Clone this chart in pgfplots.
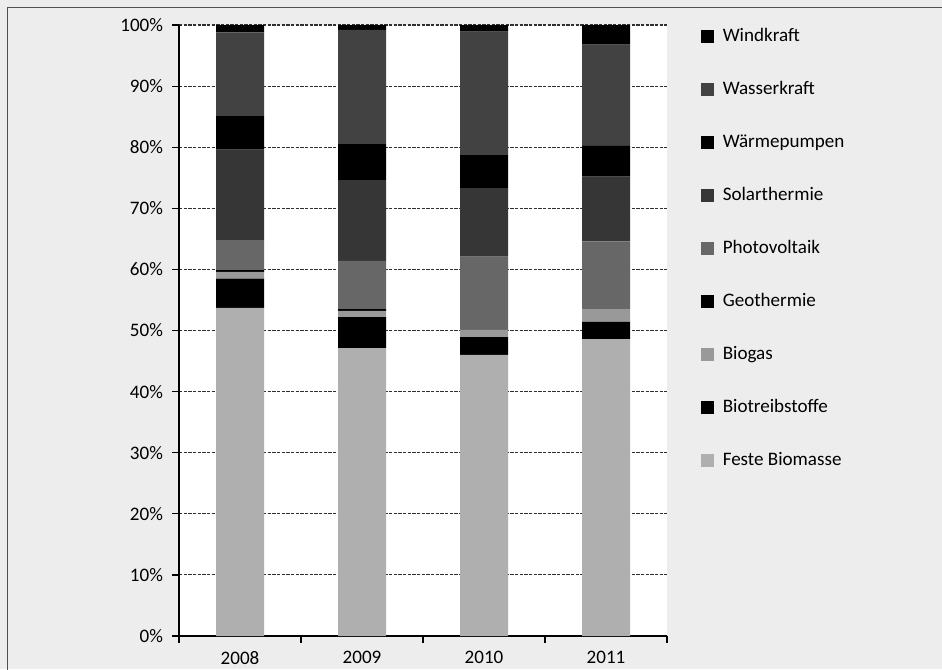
\documentclass[border=0pt]{standalone}
\usepackage{pgfplots}
\pgfplotsset{compat=1.18}
\usepackage{fontspec}
\setmainfont{Carlito}

\definecolor{bg}{HTML}{EDEDED}
\definecolor{framec}{HTML}{505050}
\definecolor{gridc}{HTML}{303030}
\definecolor{cWind}{HTML}{000000}
\definecolor{cWasser}{HTML}{424242}
\definecolor{cWaerme}{HTML}{000000}
\definecolor{cSolar}{HTML}{363636}
\definecolor{cPV}{HTML}{676767}
\definecolor{cGeo}{HTML}{000000}
\definecolor{cBiogas}{HTML}{999999}
\definecolor{cBiotreib}{HTML}{000000}
\definecolor{cFeste}{HTML}{AFAFAF}

% shares in percent, columns 2008..2011
\pgfplotstableread{
x    feste biotreib biogas geo  pv   solar waerme wasser wind
0.5  53.7  4.8      1.1    0.3  4.9  14.8  5.6    13.6   1.2
1.5  47.1  5.1      1.0    0.3  7.9  13.2  5.9    18.7   0.8
2.5  46.0  2.9      1.2    0.0  12.0 11.2  5.4    20.2   1.1
3.5  48.6  2.8      2.1    0.0  11.1 10.6  5.0    16.6   3.2
}\shares

\begin{document}
\begin{tikzpicture}
\fill[bg] (0,0) rectangle (706.5pt,501.75pt);
\useasboundingbox (0,0) rectangle (706.5pt,501.75pt);
\draw[framec, line width=1.1pt] (5.6pt,-2pt) -- (5.6pt,496.1pt) -- (710pt,496.1pt);
\begin{axis}[
  at={(134.25pt,24.75pt)}, anchor=south west,
  scale only axis, width=366pt, height=458.25pt,
  xmin=0, xmax=4, ymin=0, ymax=100,
  ybar stacked, bar width=36pt,
  axis background/.style={fill=white},
  axis x line*=bottom, axis y line*=left,
  axis line style={black, line width=0.9pt},
  xtick={0,1,2,3,4}, xticklabels={},
  extra x ticks={0.5,1.5,2.5,3.5},
  extra x tick labels={2008,2009,2010,2011},
  extra x tick style={major tick length=0pt, grid=none,
    xticklabel style={yshift=-8pt}},
  ytick={0,10,...,100},
  yticklabels={0\%,10\%,20\%,30\%,40\%,50\%,60\%,70\%,80\%,90\%,100\%},
  tick align=outside, major tick length=5pt,
  tick style={black, line width=0.9pt},
  ymajorgrids,
  grid style={gridc, line width=0.8pt, dash pattern=on 2.4pt off 1.1pt},
  ticklabel style={font=\fontsize{14.3}{17}\selectfont},
  yticklabel style={xshift=-3.5pt},
  legend image code/.code={\fill[#1] (0pt,-4.75pt) rectangle (9.5pt,4.75pt);},
  reverse legend,
  legend cell align=left,
  legend style={at={(1.07,1.0)}, anchor=north west, yshift=-2pt,
    draw=none, fill=none,
    font=\fontsize{14.3}{17}\selectfont, row sep=26.75pt, inner sep=0pt,
    nodes={inner sep=0pt, text height=10pt, text depth=3pt},
    /tikz/every odd column/.append style={column sep=6.5pt}},
]
\addplot[fill=cFeste, draw=none] table[x=x, y=feste] {\shares};
\addplot[fill=cBiotreib, draw=none] table[x=x, y=biotreib] {\shares};
\addplot[fill=cBiogas, draw=none] table[x=x, y=biogas] {\shares};
\addplot[fill=cGeo, draw=none] table[x=x, y=geo] {\shares};
\addplot[fill=cPV, draw=none] table[x=x, y=pv] {\shares};
\addplot[fill=cSolar, draw=none] table[x=x, y=solar] {\shares};
\addplot[fill=cWaerme, draw=none] table[x=x, y=waerme] {\shares};
\addplot[fill=cWasser, draw=none] table[x=x, y=wasser] {\shares};
\addplot[fill=cWind, draw=none] table[x=x, y=wind] {\shares};
\legend{Feste Biomasse, Biotreibstoffe, Biogas, Geothermie, Photovoltaik,
  Solarthermie, Wärmepumpen, Wasserkraft, Windkraft}
\end{axis}
\end{tikzpicture}
\end{document}
